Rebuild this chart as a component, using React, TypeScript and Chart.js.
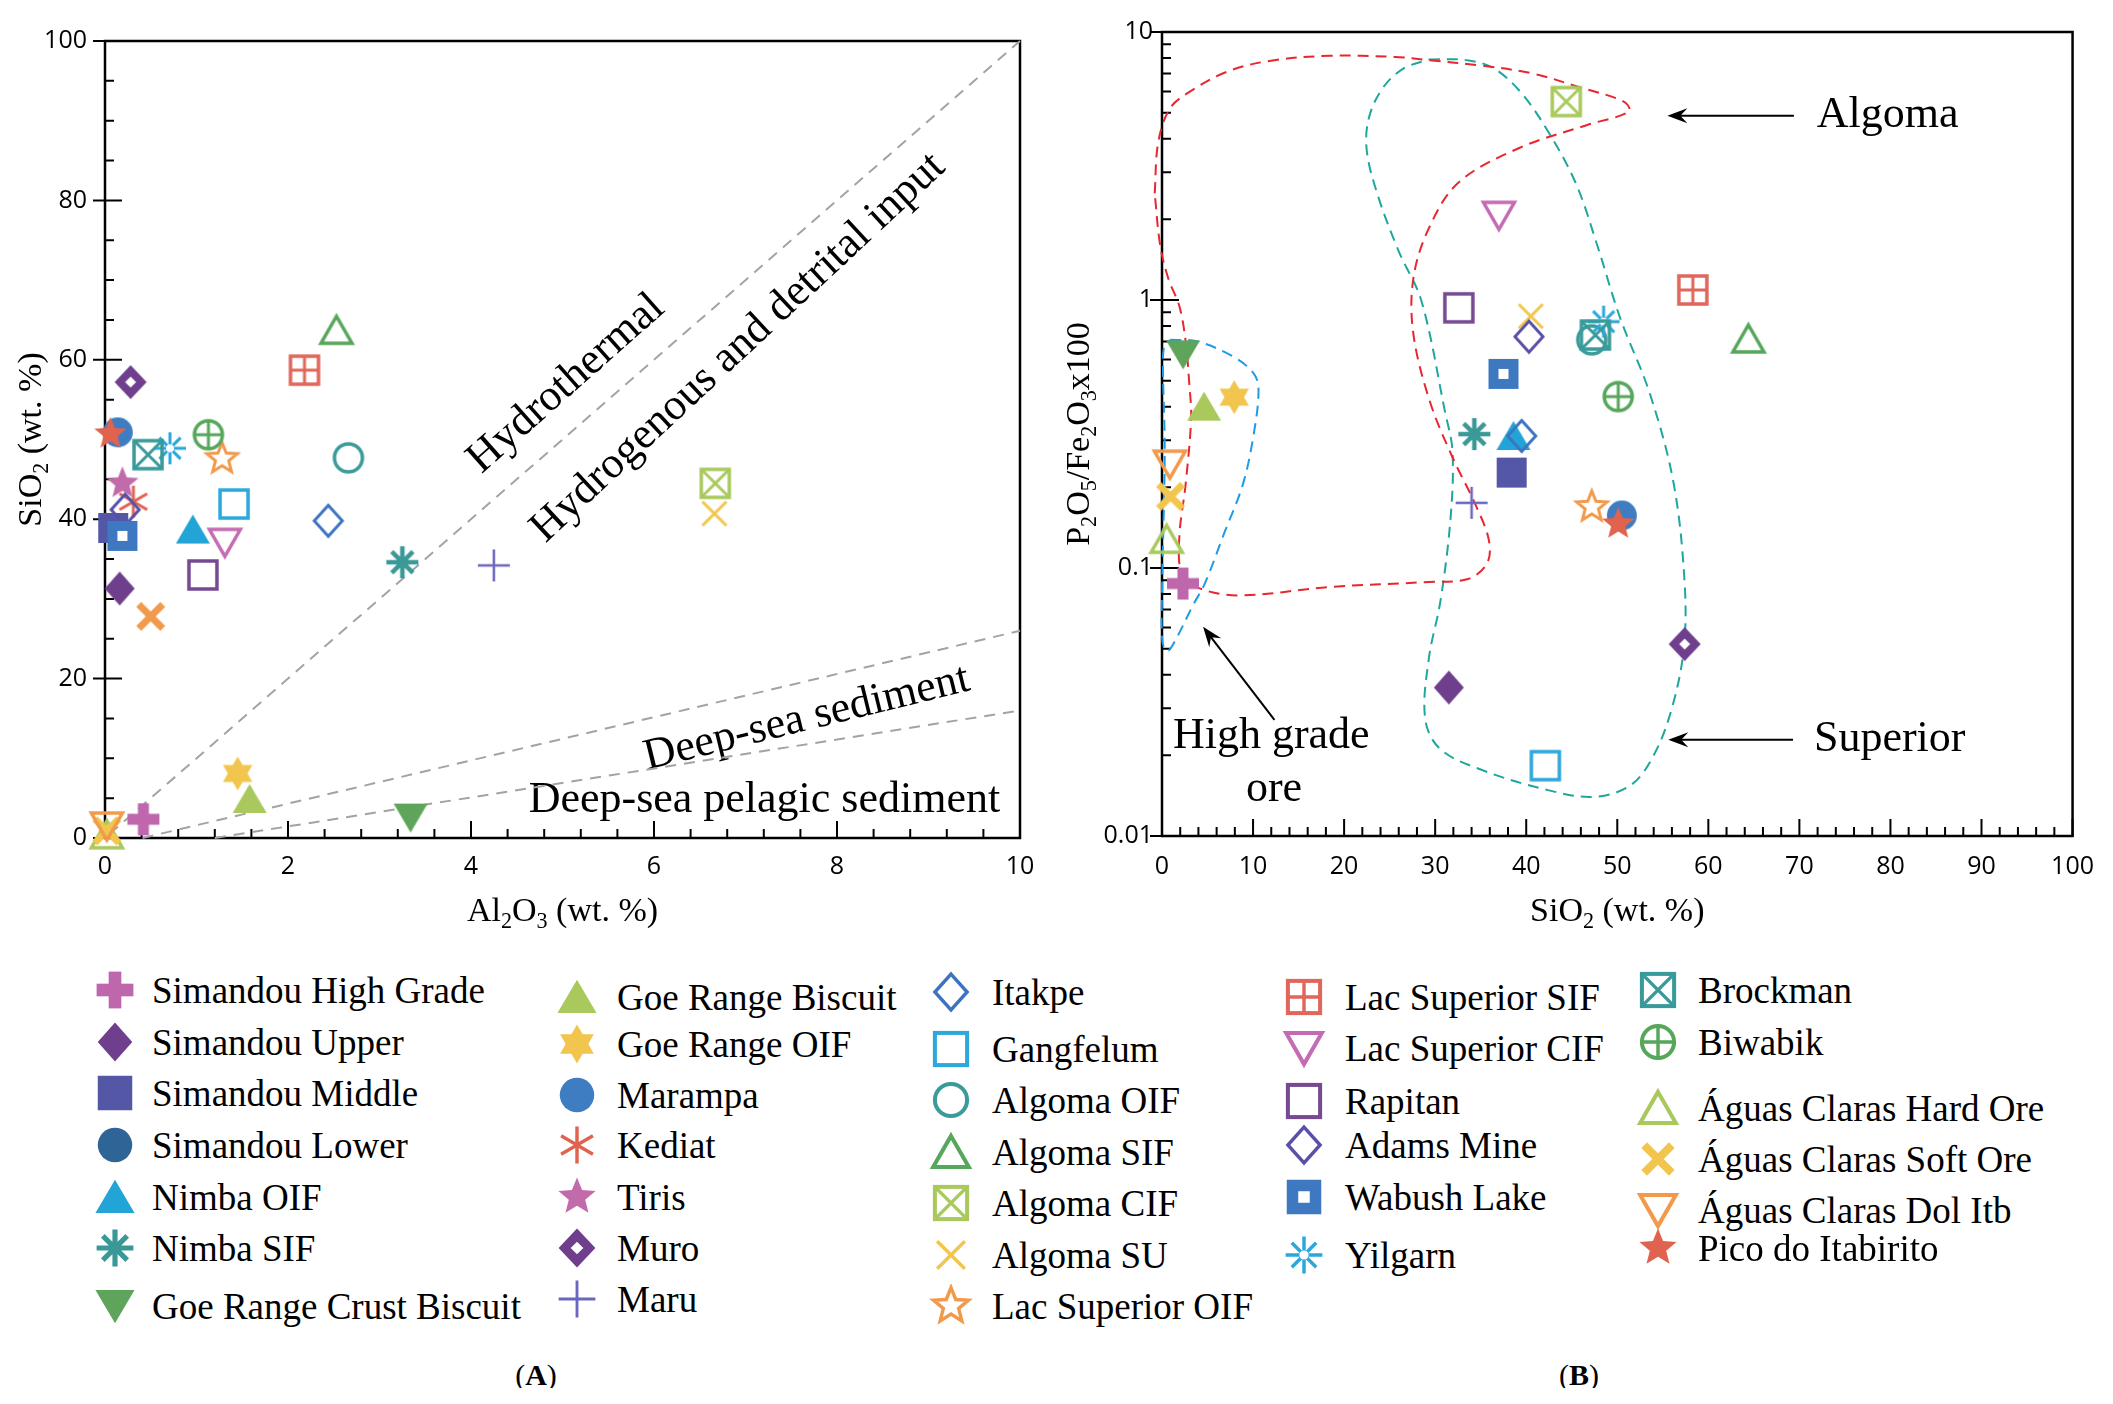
import React, { useEffect, useRef } from 'react';
import { Chart, registerables } from 'chart.js';

Chart.register(...registerables);

// ---------------- data ----------------
const SERIES = [
  'Simandou High Grade', 'Simandou Upper', 'Simandou Middle', 'Simandou Lower', 'Nimba OIF', 'Nimba SIF',
  'Goe Range Crust Biscuit', 'Goe Range Biscuit', 'Goe Range OIF', 'Marampa', 'Kediat', 'Tiris', 'Muro', 'Maru',
  'Itakpe', 'Gangfelum', 'Algoma OIF', 'Algoma SIF', 'Algoma CIF', 'Algoma SU', 'Lac Superior OIF',
  'Lac Superior SIF', 'Lac Superior CIF', 'Rapitan', 'Adams Mine', 'Wabush Lake', 'Yilgarn',
  'Brockman', 'Biwabik', 'Águas Claras Hard Ore', 'Águas Claras Soft Ore', 'Águas Claras Dol Itb', 'Pico do Itabirito',
];

// Panel A: Al2O3 vs SiO2 (wt. %)
const AL2O3_A = [0.42, 0.16, 0.09, null, 0.96, 3.25, 3.34, 1.58, 1.45, 0.14, 0.31, 0.19, 0.28, 4.25, 2.44, 1.41, 2.66, 2.53, 6.67, 6.66, 1.28, 2.18, 1.31, 1.07, 0.22, 0.19, 0.71, 0.47, 1.13, 0.02, 0.02, 0.02, 0.06];
const SIO2_A = [2.35, 31.3, 38.9, null, 38.7, 34.6, 2.56, 4.9, 8.1, 50.9, 42.2, 44.5, 57.2, 34.2, 39.8, 41.9, 47.7, 63.7, 44.5, 40.7, 47.6, 58.7, 37.1, 33.0, 41.2, 37.9, 48.9, 48.1, 50.6, 0.4, 0.9, 1.5, 50.7];
const EXTRA_AL2O3_A = [0.5];
const EXTRA_SIO2_A = [27.8];

// Panel B: SiO2 vs P2O5/Fe2O3 x100
const SIO2_B = [2.3, 31.5, 38.4, null, 38.6, 34.3, 2.32, 4.62, 7.93, 50.5, null, null, 57.4, 34.0, 39.5, 42.1, 47.2, 64.4, 44.4, 40.5, 47.2, 58.3, 37.0, 32.6, 40.3, 37.5, 48.5, 47.6, 50.1, 0.51, 0.94, 0.86, 50.1];
const PFE_B = [0.0875, 0.0358, 0.227, null, 0.311, 0.316, 0.627, 0.40, 0.434, 0.157, null, null, 0.052, 0.175, 0.311, 0.0183, 0.71, 0.716, 5.5, 0.87, 0.169, 1.09, 2.07, 0.935, 0.73, 0.53, 0.83, 0.74, 0.436, 0.128, 0.185, 0.244, 0.146];

// Panel A discrimination lines
const HYDRO_X = [0.05, 10];
const HYDRO_Y = [0.5, 100];
const DEEP_X = [0.41, 10];
const DEEP_Y = [0, 26];
const PELAGIC_X = [1.2, 10];
const PELAGIC_Y = [0, 16];

// Panel B fields
const ALGOMA_X = [-0.8, -0.4, 0.9, 3.1, 7.1, 11.8, 18.4, 25.6, 29.3, 35.0, 40.7, 46.0, 50.7, 51.3, 46.7, 39.3, 32.6, 29.3, 27.6, 27.6, 29.4, 31.9, 34.4, 35.9, 35.7, 33.6, 29.3, 18.5, 8.5, 4.2, 2.2, 1.9, 2.6, 3.2, 3.0, 2.6, 1.9, 0.7, -0.2, -0.8];
const ALGOMA_Y = [2.5, 3.9, 5.2, 6.0, 7.1, 7.8, 8.15, 8.07, 7.85, 7.5, 7.0, 6.2, 5.5, 5.05, 4.5, 3.7, 2.75, 1.85, 1.2, 0.75, 0.42, 0.259, 0.173, 0.127, 0.104, 0.091, 0.0887, 0.085, 0.079, 0.0838, 0.095, 0.13, 0.206, 0.364, 0.485, 0.70, 0.95, 1.2, 1.6, 2.5];
const SUPERIOR_X = [29.3, 33.5, 36.5, 39.5, 42.5, 45.5, 47.8, 50.3, 53.6, 56.2, 57.4, 57.3, 56.0, 54.0, 51.5, 47.5, 42.5, 35.0, 30.5, 28.9, 29.3, 30.6, 31.7, 31.9, 31.1, 28.5, 26.0, 23.8, 22.5, 22.7, 24.2, 26.5, 29.3];
const SUPERIOR_Y = [7.9, 7.85, 7.3, 5.9, 4.2, 2.7, 1.6, 0.86, 0.445, 0.206, 0.0875, 0.05, 0.03, 0.02, 0.0155, 0.014, 0.0148, 0.0177, 0.0212, 0.0274, 0.0458, 0.076, 0.155, 0.274, 0.38, 0.99, 1.52, 2.4, 3.58, 4.75, 6.15, 7.3, 7.9];
const HIGHGRADE_X = [0.9, 3.9, 8.0, 10.1, 10.6, 10.1, 8.9, 6.8, 4.7, 3.4, 1.5, 0.6, 0.05, 0.0, 0.3, 0.1, 0.3, 0.9];
const HIGHGRADE_Y = [0.71, 0.70, 0.61, 0.53, 0.46, 0.32, 0.206, 0.134, 0.0875, 0.0726, 0.054, 0.049, 0.053, 0.08, 0.27, 0.59, 0.68, 0.71];

// Ticks
const X_TICKS_A = [0, 2, 4, 6, 8, 10];
const Y_TICKS_A = [0, 20, 40, 60, 80, 100];
const X_TICKS_B = [0, 10, 20, 30, 40, 50, 60, 70, 80, 90, 100];
const Y_TICKS_B = [0.01, 0.1, 1, 10];

// Annotations
const ANNOT_A = [
  { text: 'Hydrothermal', x: 5.04, y: 57.0, angle: 41.5, align: 'center' },
  { text: 'Hydrogenous and detrital input', x: 6.92, y: 61.5, angle: 43, align: 'center' },
  { text: 'Deep-sea sediment', x: 7.67, y: 15.0, angle: 13.8, align: 'center' },
  { text: 'Deep-sea pelagic sediment', x: 4.63, y: 4.7, angle: 0, align: 'left' },
];
const ANNOT_B = [
  { text: 'Algoma', x: 71.9, y: 4.87, align: 'left' },
  { text: 'Superior', x: 71.6, y: 0.0229, align: 'left' },
  { text: 'High grade', x: 12.0, y: 0.0235, align: 'center' },
  { text: 'ore', x: 12.3, y: 0.0149, align: 'center' },
];
const ARROWS_B = [
  { x1: 69.4, y1: 4.87, x2: 55.5, y2: 4.87 },
  { x1: 69.3, y1: 0.02285, x2: 55.6, y2: 0.02285 },
  { x1: 12.35, y1: 0.0271, x2: 4.51, y2: 0.0603 },
];

// ---------------- styles ----------------
const COLORS = [
  '#bf67ad', '#6f3f8e', '#5457a6', '#2f6497', '#22a5d6', '#3a9996', '#5fa45b', '#a9c95d', '#f2c54e', '#3f7dc3',
  '#e0634f', '#c26bab', '#6f3f8e', '#6a67c0', '#3d74c0', '#2ca8da', '#3b9a9a', '#56a65b', '#a9c95d', '#f2c54e',
  '#f19a4c', '#e0675b', '#c46bb3', '#764a92', '#5a50a8', '#3d78c0', '#2aa7dc', '#3a9a9a', '#56a65b', '#a9c95d',
  '#f2c54e', '#f19a4c', '#e0634f',
];
const MARKERS = [
  'plusBold', 'diamondFilled', 'squareFilled', 'circleFilled', 'triFilled', 'asterisk', 'triDownFilled', 'triFilled',
  'hexagram', 'circleFilled', 'asterisk6', 'star5Filled', 'diamondMuro', 'plusThin', 'diamondOpen', 'squareOpen',
  'circleOpen', 'triOpen', 'squareX', 'xThin', 'star5Open', 'squarePlus', 'triDownOpen', 'squareOpen', 'diamondOpen',
  'squareWhite', 'yilgarn', 'squareX', 'circlePlus', 'triOpen', 'xBold', 'triDownOpen', 'star5Filled',
];
const EXTRA_COLOR = '#f19a4c';

const LEGEND_COLUMNS = [[0, 7], [7, 14], [14, 21], [21, 27], [27, 33]];
const LEGEND_MARKER_X = [107, 569, 943, 1296, 1650];
const LEGEND_TEXT_X = [144, 609, 984, 1337, 1690];
const LEGEND_ROWS = [
  [982, 1034, 1085, 1137, 1189, 1240, 1298],
  [989, 1036, 1087, 1137, 1189, 1240, 1291],
  [984, 1041, 1092, 1144, 1195, 1247, 1298],
  [989, 1040, 1093, 1137, 1189, 1247],
  [982, 1034, 1100, 1151, 1202, 1240],
];

const SERIF = '"Liberation Serif", "Times New Roman", serif';
const SANS = '"Open Sans", "Liberation Sans", sans-serif';

// ---------------- drawing helpers ----------------
function drawMarker(ctx: CanvasRenderingContext2D, kind: string, color: string, cx: number, cy: number, scale = 1) {
  ctx.save();
  ctx.translate(cx, cy);
  ctx.scale(scale, scale);
  ctx.strokeStyle = color;
  ctx.fillStyle = color;
  ctx.lineJoin = 'miter';
  const path = (pts: number[][]) => {
    ctx.beginPath();
    pts.forEach((p, i) => (i ? ctx.lineTo(p[0], p[1]) : ctx.moveTo(p[0], p[1])));
    ctx.closePath();
  };
  const seg = (a: number, len: number) => {
    const c = Math.cos(a), s = Math.sin(a);
    ctx.moveTo(-c * len, -s * len);
    ctx.lineTo(c * len, s * len);
  };
  const star = (n: number, R: number, r: number) => {
    const pts: number[][] = [];
    for (let k = 0; k < 2 * n; k++) {
      const ang = -Math.PI / 2 + (k * Math.PI) / n;
      const rr = k % 2 === 0 ? R : r;
      pts.push([Math.cos(ang) * rr, Math.sin(ang) * rr]);
    }
    path(pts);
  };
  const tri = (R: number, start: number) => {
    const pts: number[][] = [];
    for (let k = 0; k < 3; k++) {
      const a = start + (k * 2 * Math.PI) / 3;
      pts.push([Math.cos(a) * R, Math.sin(a) * R]);
    }
    path(pts);
  };
  switch (kind) {
    case 'plusBold':
      ctx.fillRect(-16, -5.5, 32, 11);
      ctx.fillRect(-5.5, -16, 11, 32);
      break;
    case 'plusThin':
      ctx.lineWidth = 2.5;
      ctx.beginPath(); seg(0, 16); seg(Math.PI / 2, 16); ctx.stroke();
      break;
    case 'xThin':
      ctx.lineWidth = 3;
      ctx.beginPath(); seg(Math.PI / 4, 17); seg(-Math.PI / 4, 17); ctx.stroke();
      break;
    case 'xBold':
      ctx.lineWidth = 7;
      ctx.beginPath(); seg(Math.PI / 4, 17); seg(-Math.PI / 4, 17); ctx.stroke();
      break;
    case 'diamondFilled':
      path([[0, -17], [15, 0], [0, 17], [-15, 0]]); ctx.fill();
      break;
    case 'diamondOpen':
      ctx.lineWidth = 3;
      path([[0, -15.5], [14, 0], [0, 15.5], [-14, 0]]); ctx.stroke();
      break;
    case 'diamondMuro':
      path([[0, -17], [16, 0], [0, 17], [-16, 0]]); ctx.fill();
      ctx.fillStyle = '#fff';
      path([[0, -5.5], [5.5, 0], [0, 5.5], [-5.5, 0]]); ctx.fill();
      break;
    case 'squareFilled':
      ctx.fillRect(-15, -15, 30, 30);
      break;
    case 'squareOpen':
      ctx.lineWidth = 3.5; ctx.strokeRect(-14, -14, 28, 28);
      break;
    case 'squareX':
      ctx.lineWidth = 3.5; ctx.strokeRect(-14, -14, 28, 28);
      ctx.lineWidth = 3;
      ctx.beginPath(); ctx.moveTo(-14, -14); ctx.lineTo(14, 14); ctx.moveTo(14, -14); ctx.lineTo(-14, 14); ctx.stroke();
      break;
    case 'squarePlus':
      ctx.lineWidth = 3.5; ctx.strokeRect(-14, -14, 28, 28);
      ctx.lineWidth = 3;
      ctx.beginPath(); ctx.moveTo(0, -14); ctx.lineTo(0, 14); ctx.moveTo(-14, 0); ctx.lineTo(14, 0); ctx.stroke();
      break;
    case 'squareWhite':
      ctx.fillRect(-15, -15, 30, 30);
      ctx.fillStyle = '#fff'; ctx.fillRect(-5, -5, 10, 10);
      break;
    case 'circleFilled':
      ctx.beginPath(); ctx.arc(0, 0, 15, 0, Math.PI * 2); ctx.fill();
      break;
    case 'circleOpen':
      ctx.lineWidth = 3.5; ctx.beginPath(); ctx.arc(0, 0, 14, 0, Math.PI * 2); ctx.stroke();
      break;
    case 'circlePlus':
      ctx.lineWidth = 3.5; ctx.beginPath(); ctx.arc(0, 0, 14, 0, Math.PI * 2); ctx.stroke();
      ctx.lineWidth = 3;
      ctx.beginPath(); ctx.moveTo(0, -14); ctx.lineTo(0, 14); ctx.moveTo(-14, 0); ctx.lineTo(14, 0); ctx.stroke();
      break;
    case 'triFilled':
      path([[0, -15], [17, 14], [-17, 14]]); ctx.fill();
      break;
    case 'triOpen':
      ctx.lineWidth = 3.5; path([[0, -14], [15.5, 13], [-15.5, 13]]); ctx.stroke();
      break;
    case 'triDownFilled':
      path([[-17, -14], [17, -14], [0, 15]]); ctx.fill();
      break;
    case 'triDownOpen':
      ctx.lineWidth = 3.5; path([[-15.5, -13], [15.5, -13], [0, 14]]); ctx.stroke();
      break;
    case 'asterisk':
      ctx.lineWidth = 4.5;
      ctx.beginPath(); seg(0, 16); seg(Math.PI / 4, 15); seg(Math.PI / 2, 16); seg(-Math.PI / 4, 15); ctx.stroke();
      break;
    case 'asterisk6':
      ctx.lineWidth = 3;
      ctx.beginPath(); seg(Math.PI / 2, 16); seg(Math.PI / 6, 16); seg(-Math.PI / 6, 16); ctx.stroke();
      break;
    case 'yilgarn':
      ctx.lineWidth = 3;
      ctx.beginPath(); seg(0, 16); seg(Math.PI / 4, 15); seg(Math.PI / 2, 16); seg(-Math.PI / 4, 15); ctx.stroke();
      ctx.fillStyle = '#fff'; ctx.beginPath(); ctx.arc(0, 0, 4, 0, Math.PI * 2); ctx.fill();
      break;
    case 'star5Filled':
      star(5, 17, 7.5); ctx.fill();
      break;
    case 'star5Open':
      star(5, 16, 7); ctx.fillStyle = '#fff'; ctx.fill(); ctx.lineWidth = 3; ctx.stroke();
      break;
    case 'hexagram':
      tri(17, -Math.PI / 2); ctx.fill();
      tri(17, Math.PI / 2); ctx.fill();
      break;
    default:
      break;
  }
  ctx.restore();
}

function makeMarkerCanvas(kind: string, color: string) {
  const c = document.createElement('canvas');
  c.width = 40;
  c.height = 40;
  const ctx = c.getContext('2d');
  if (ctx) drawMarker(ctx, kind, color, 20, 20);
  return c;
}

type Part = [string, boolean];
function drawRich(ctx: CanvasRenderingContext2D, parts: Part[], x: number, y: number, rot: number, size: number) {
  ctx.save();
  ctx.translate(x, y);
  ctx.rotate(rot);
  const sub = size * 0.65;
  const widths = parts.map(([t, s]) => {
    ctx.font = `${s ? sub : size}px ${SERIF}`;
    return ctx.measureText(t).width;
  });
  const total = widths.reduce((a, b) => a + b, 0);
  let cx = -total / 2;
  ctx.fillStyle = '#000';
  ctx.textBaseline = 'alphabetic';
  ctx.textAlign = 'left';
  parts.forEach(([t, s], i) => {
    ctx.font = `${s ? sub : size}px ${SERIF}`;
    ctx.fillText(t, cx, s ? size * 0.22 : 0);
    cx += widths[i];
  });
  ctx.restore();
}

function arrow(ctx: CanvasRenderingContext2D, x1: number, y1: number, x2: number, y2: number) {
  ctx.save();
  ctx.strokeStyle = '#000';
  ctx.fillStyle = '#000';
  ctx.lineWidth = 2;
  const a = Math.atan2(y2 - y1, x2 - x1);
  const c = Math.cos(a), s = Math.sin(a);
  const L = 20, W = 7.5;
  ctx.beginPath();
  ctx.moveTo(x1, y1);
  ctx.lineTo(x2 - c * L * 0.6, y2 - s * L * 0.6);
  ctx.stroke();
  ctx.beginPath();
  ctx.moveTo(x2, y2);
  ctx.lineTo(x2 - c * L - s * W, y2 - s * L + c * W);
  ctx.lineTo(x2 - c * L * 0.65, y2 - s * L * 0.65);
  ctx.lineTo(x2 - c * L + s * W, y2 - s * L - c * W);
  ctx.closePath();
  ctx.fill();
  ctx.restore();
}

function range(from: number, to: number, step: number, skipEvery: number) {
  const out: number[] = [];
  for (let i = 0; from + i * step <= to + 1e-9; i++) {
    if (i % skipEvery !== 0) out.push(from + i * step);
  }
  return out;
}

function logMinors() {
  const out: number[] = [];
  [0.01, 0.1, 1].forEach((d) => {
    for (let k = 2; k <= 9; k++) out.push(k * d);
  });
  return out;
}

function framePlugin(xMajor: number[], xMinor: number[], yMajor: number[], yMinor: number[]) {
  return {
    id: 'frameTicks',
    beforeDatasetsDraw(chart: any) {
      const { ctx, chartArea: a, scales } = chart;
      const xs = scales.x, ys = scales.y;
      ctx.save();
      ctx.strokeStyle = '#000';
      ctx.lineWidth = 2;
      ctx.beginPath();
      xMinor.forEach((v) => { const p = xs.getPixelForValue(v); ctx.moveTo(p, a.bottom); ctx.lineTo(p, a.bottom - 9); });
      xMajor.forEach((v) => { const p = xs.getPixelForValue(v); ctx.moveTo(p, a.bottom); ctx.lineTo(p, a.bottom - 17); });
      yMinor.forEach((v) => { const p = ys.getPixelForValue(v); ctx.moveTo(a.left, p); ctx.lineTo(a.left + 9, p); });
      yMajor.forEach((v) => { const p = ys.getPixelForValue(v); ctx.moveTo(a.left - 12, p); ctx.lineTo(a.left + 17, p); });
      ctx.stroke();
      ctx.lineWidth = 2.5;
      ctx.strokeRect(a.left, a.top, a.right - a.left, a.bottom - a.top);
      ctx.restore();
    },
  };
}

function lineDataset(xs: number[], ys: number[], color: string, dash: number[], tension: number) {
  return {
    label: '',
    data: xs.map((x, i) => ({ x, y: ys[i] })),
    showLine: true,
    borderColor: color,
    borderWidth: 2,
    borderDash: dash,
    pointRadius: 0,
    tension,
    capBezierPoints: false,
    fill: false,
    clip: false,
    order: 100,
  };
}

function pointDataset(name: string, xs: (number | null)[], ys: (number | null)[], marker: HTMLCanvasElement, order: number) {
  const data = xs
    .map((x, i) => (x == null || ys[i] == null ? null : { x, y: ys[i] }))
    .filter((p) => p !== null);
  return {
    label: name,
    data,
    showLine: false,
    pointStyle: marker,
    pointRadius: 16,
    pointHoverRadius: 16,
    clip: false,
    order,
  };
}

function baseScale(ticks: number[], size: number, isX: boolean, pad: number, extra: any) {
  return {
    ...extra,
    afterBuildTicks: (s: any) => { s.ticks = ticks.map((v) => ({ value: v })); },
    afterFit: (s: any) => { if (isX) s.height = size; else s.width = size; },
    grid: { display: false, drawTicks: false },
    border: { display: false },
    ticks: {
      autoSkip: false,
      maxRotation: 0,
      padding: pad,
      color: '#000',
      font: { family: SANS, size: 25 },
      callback: (v: number) => String(v),
    },
  };
}

export default function App() {
  const refA = useRef<HTMLCanvasElement | null>(null);
  const refB = useRef<HTMLCanvasElement | null>(null);

  useEffect(() => {
    const markers = MARKERS.map((m, i) => makeMarkerCanvas(m, COLORS[i]));
    const extraMarker = makeMarkerCanvas('xBold', EXTRA_COLOR);

    const textA = {
      id: 'textA',
      beforeDatasetsDraw(chart: any) {
        const { ctx, scales } = chart;
        ANNOT_A.forEach((t) => {
          ctx.save();
          ctx.translate(scales.x.getPixelForValue(t.x), scales.y.getPixelForValue(t.y));
          ctx.rotate((-t.angle * Math.PI) / 180);
          ctx.font = `44px ${SERIF}`;
          ctx.fillStyle = '#000';
          ctx.textAlign = t.align;
          ctx.textBaseline = 'middle';
          ctx.fillText(t.text, 0, 0);
          ctx.restore();
        });
      },
      afterDraw(chart: any) {
        const { ctx, chartArea: a } = chart;
        drawRich(ctx, [['Al', false], ['2', true], ['O', false], ['3', true], [' (wt. %)', false]], (a.left + a.right) / 2, a.bottom + 83, 0, 34);
        drawRich(ctx, [['SiO', false], ['2', true], [' (wt. %)', false]], a.left - 64, (a.top + a.bottom) / 2, -Math.PI / 2, 34);
      },
    };

    const textB = {
      id: 'textB',
      beforeDatasetsDraw(chart: any) {
        const { ctx, scales } = chart;
        ANNOT_B.forEach((t) => {
          ctx.save();
          ctx.font = `44px ${SERIF}`;
          ctx.fillStyle = '#000';
          ctx.textAlign = t.align;
          ctx.textBaseline = 'middle';
          ctx.fillText(t.text, scales.x.getPixelForValue(t.x), scales.y.getPixelForValue(t.y));
          ctx.restore();
        });
        ARROWS_B.forEach((r) => {
          arrow(ctx, scales.x.getPixelForValue(r.x1), scales.y.getPixelForValue(r.y1), scales.x.getPixelForValue(r.x2), scales.y.getPixelForValue(r.y2));
        });
      },
      afterDraw(chart: any) {
        const { ctx, chartArea: a } = chart;
        drawRich(ctx, [['SiO', false], ['2', true], [' (wt. %)', false]], (a.left + a.right) / 2, a.bottom + 85, 0, 34);
        drawRich(ctx, [['P', false], ['2', true], ['O', false], ['5', true], ['/Fe', false], ['2', true], ['O', false], ['3', true], ['x100', false]], a.left - 73, (a.top + a.bottom) / 2, -Math.PI / 2, 34);
      },
    };

    const dsA: any[] = [
      lineDataset(HYDRO_X, HYDRO_Y, '#a3a3a3', [11, 8], 0),
      lineDataset(DEEP_X, DEEP_Y, '#a3a3a3', [11, 8], 0),
      lineDataset(PELAGIC_X, PELAGIC_Y, '#a3a3a3', [11, 8], 0),
      pointDataset('', EXTRA_AL2O3_A, EXTRA_SIO2_A, extraMarker, 1),
      ...SERIES.map((s, i) => pointDataset(s, [AL2O3_A[i]], [SIO2_A[i]], markers[i], -i)),
    ];

    const dsB: any[] = [
      lineDataset(ALGOMA_X, ALGOMA_Y, '#e8262d', [11, 7], 0.35),
      lineDataset(SUPERIOR_X, SUPERIOR_Y, '#1fa69d', [11, 7], 0.35),
      lineDataset(HIGHGRADE_X, HIGHGRADE_Y, '#1e9be6', [11, 7], 0.35),
      ...SERIES.map((s, i) => pointDataset(s, [SIO2_B[i]], [PFE_B[i]], markers[i], -i)),
    ];

    const chartA = new Chart(refA.current as HTMLCanvasElement, {
      type: 'scatter',
      data: { datasets: dsA },
      plugins: [framePlugin(X_TICKS_A, range(0, 10, 0.4, 5), Y_TICKS_A, range(0, 100, 5, 4)), textA],
      options: {
        animation: false,
        responsive: false,
        maintainAspectRatio: false,
        events: [],
        layout: { padding: { left: 0, top: 22, right: 38, bottom: 0 } },
        plugins: { legend: { display: false }, tooltip: { enabled: false } },
        scales: {
          x: baseScale(X_TICKS_A, 110, true, 14, { type: 'linear', min: 0, max: 10 }),
          y: baseScale(Y_TICKS_A, 97, false, 18, { type: 'linear', min: 0, max: 100 }),
        },
      } as any,
    });

    const chartB = new Chart(refB.current as HTMLCanvasElement, {
      type: 'scatter',
      data: { datasets: dsB },
      plugins: [framePlugin(X_TICKS_B, range(0, 100, 2, 5), Y_TICKS_B, logMinors()), textB],
      options: {
        animation: false,
        responsive: false,
        maintainAspectRatio: false,
        events: [],
        layout: { padding: { left: 0, top: 22, right: 33, bottom: 0 } },
        plugins: { legend: { display: false }, tooltip: { enabled: false } },
        scales: {
          x: baseScale(X_TICKS_B, 112, true, 16, { type: 'linear', min: 0, max: 100 }),
          y: baseScale(Y_TICKS_B, 102, false, 9, { type: 'logarithmic', min: 0.01, max: 10 }),
        },
      } as any,
    });

    return () => {
      chartA.destroy();
      chartB.destroy();
    };
  }, []);

  const legendItems: any[] = [];
  LEGEND_COLUMNS.forEach(([from, to], c) => {
    for (let i = from; i < to; i++) {
      const y = LEGEND_ROWS[c][i - from];
      legendItems.push(
        <canvas
          key={`m${i}`}
          width={44}
          height={44}
          style={{ position: 'absolute', left: LEGEND_MARKER_X[c] - 22, top: y - 22 }}
          ref={(el) => {
            if (el) {
              const ctx = el.getContext('2d');
              if (ctx) { ctx.clearRect(0, 0, 44, 44); drawMarker(ctx, MARKERS[i], COLORS[i], 22, 22, 1.15); }
            }
          }}
        />,
      );
      legendItems.push(
        <div
          key={`t${i}`}
          style={{
            position: 'absolute', left: LEGEND_TEXT_X[c], top: y, transform: 'translateY(-50%)',
            fontFamily: SERIF, fontSize: 37, lineHeight: 1, whiteSpace: 'nowrap', color: '#000',
          }}
        >
          {SERIES[i]}
        </div>,
      );
    }
  });

  return (
    <div style={{ position: 'relative', width: 2097, height: 1380, background: '#fff' }}>
      <canvas ref={refA} width={1050} height={940} style={{ position: 'absolute', left: 0, top: 0 }} />
      <canvas ref={refB} width={1050} height={940} style={{ position: 'absolute', left: 1052, top: 0 }} />
      {legendItems}
      <div style={{ position: 'absolute', left: 528, top: 1367, transform: 'translate(-50%,-50%)', fontFamily: SERIF, fontSize: 30, lineHeight: 1 }}>
        (<b>A</b>)
      </div>
      <div style={{ position: 'absolute', left: 1571, top: 1367, transform: 'translate(-50%,-50%)', fontFamily: SERIF, fontSize: 30, lineHeight: 1 }}>
        (<b>B</b>)
      </div>
    </div>
  );
}
